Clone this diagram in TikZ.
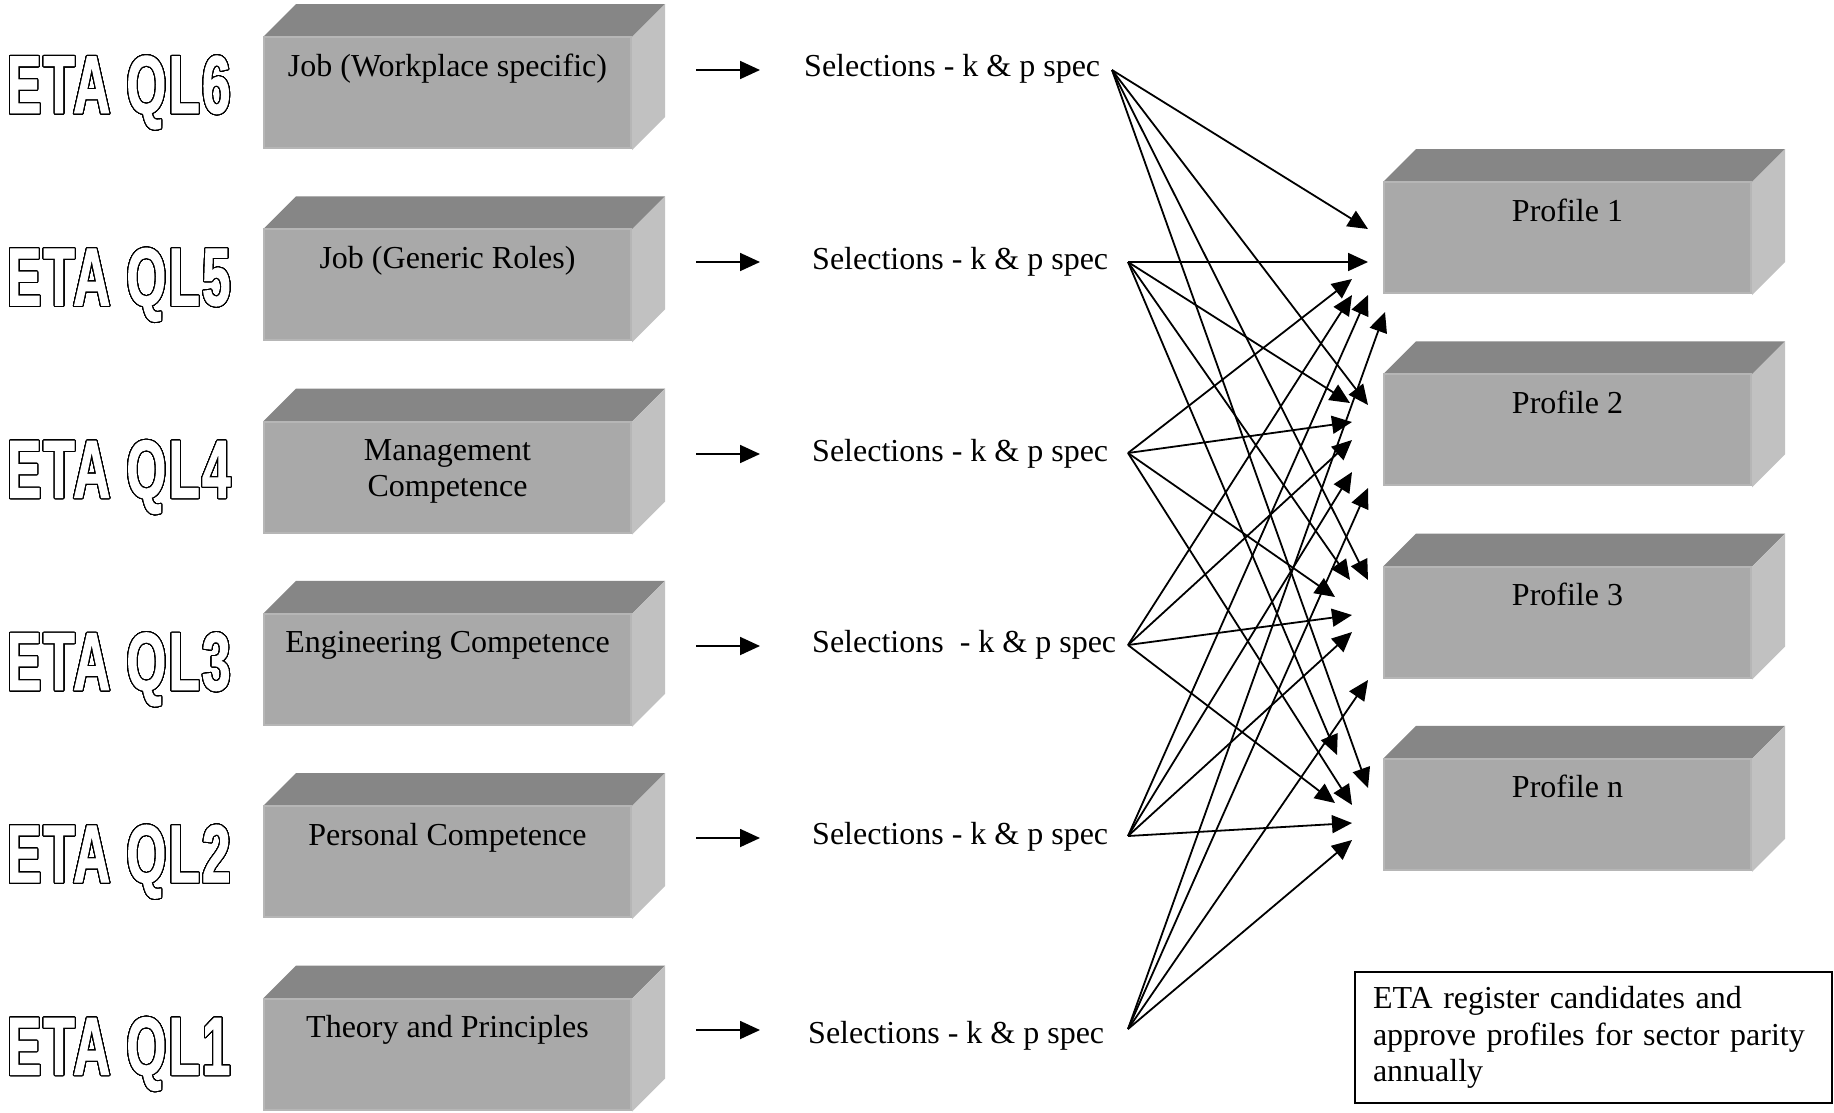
\documentclass[tikz,border=0pt]{standalone}
\usepackage{fontspec}
\setmainfont{Liberation Serif}
\newfontfamily\etafont[FakeStretch=0.62,FakeBold=1.2,LetterSpace=3]{Liberation Sans Bold}
\usepackage[copies]{contour}
\contourlength{1.1pt}
\contournumber{48}
\usetikzlibrary{arrows.meta}
\definecolor{topface}{HTML}{868686}
\definecolor{frontface}{HTML}{A9A9A9}
\definecolor{sideface}{HTML}{C1C1C1}
\definecolor{frontedge}{HTML}{B6B6B6}
\newcommand\blockbody[2]{%
  \fill[topface] ({#1-184.5},#2) -- ({#1-151.5},{#2-33}) -- ({#1+217.5},{#2-33}) -- ({#1+184.5},#2) -- cycle;
  \fill[sideface] ({#1+184.5},#2) -- ({#1+217.5},{#2-33}) -- ({#1+217.5},{#2+80}) -- ({#1+184.5},{#2+113}) -- cycle;
}
\begin{document}
\begin{tikzpicture}[x=1pt,y=-1pt,
  front/.style={fill=frontface,draw=frontedge,line width=2pt,minimum width=367pt,minimum height=111pt,inner sep=0pt,outer sep=0pt,anchor=north},
  boxtext/.style={font=\fontsize{32}{36}\selectfont,inner sep=0pt,anchor=base,align=center},
  seltext/.style={font=\fontsize{32}{36}\selectfont,inner sep=0pt,anchor=base west},
  etatext/.style={font=\etafont\fontsize{82}{90}\selectfont,inner sep=0pt,anchor=base west},
  link/.style={line width=1.8pt,-{Triangle[length=20pt,width=18pt]}},
]
\fill[white] (0,0) rectangle (1834,1112);
\useasboundingbox (0,0) rectangle (1834,1112);

% ---------- left blocks ----------
\blockbody{447.5}{37}
\node[front] (b1) at (447.5,37) {};
\node[boxtext] (bt1) at (447.5,76) {Job (Workplace specific)};
\blockbody{447.5}{229.3}
\node[front] (b2) at (447.5,229.3) {};
\node[boxtext] (bt2) at (447.5,268.3) {Job (Generic Roles)};
\blockbody{447.5}{421.6}
\node[front] (b3) at (447.5,421.6) {};
\node[boxtext] (bt3) at (447.5,496.6) {Management\\Competence};
\blockbody{447.5}{613.9}
\node[front] (b4) at (447.5,613.9) {};
\node[boxtext] (bt4) at (447.5,652.9) {Engineering Competence};
\blockbody{447.5}{806.2}
\node[front] (b5) at (447.5,806.2) {};
\node[boxtext] (bt5) at (447.5,845.2) {Personal Competence};
\blockbody{447.5}{998.5}
\node[front] (b6) at (447.5,998.5) {};
\node[boxtext] (bt6) at (447.5,1037.5) {Theory and Principles};

% ---------- ETA labels ----------
\node[etatext] (q1) at (7,113) {\color{white}\contour{black}{ETA QL6}};
\node[etatext] (q2) at (7,305.3) {\color{white}\contour{black}{ETA QL5}};
\node[etatext] (q3) at (7,497.6) {\color{white}\contour{black}{ETA QL4}};
\node[etatext] (q4) at (7,689.9) {\color{white}\contour{black}{ETA QL3}};
\node[etatext] (q5) at (7,882.2) {\color{white}\contour{black}{ETA QL2}};
\node[etatext] (q6) at (7,1074.5) {\color{white}\contour{black}{ETA QL1}};

% ---------- selections ----------
\node[seltext] (s1) at (804,76) {Selections - k \& p spec};
\node[seltext] (s2) at (812,269) {Selections - k \& p spec};
\node[seltext] (s3) at (812,461) {Selections - k \& p spec};
\node[seltext] (s4) at (812,652) {Selections\ \ - k \& p spec};
\node[seltext] (s5) at (812,844) {Selections - k \& p spec};
\node[seltext] (s6) at (808,1043) {Selections - k \& p spec};

% ---------- short arrows ----------
\foreach \r/\y in {1/70,2/262,3/454,4/646,5/838,6/1030}{
  \coordinate (a\r) at (696,\y);
  \coordinate (e\r) at (760,\y);
  \draw[link] (a\r) -- (e\r);
}

% ---------- profiles ----------
\blockbody{1567.5}{182}
\node[front] (p1) at (1567.5,182) {};
\node[boxtext] (pt1) at (1567.5,221) {Profile 1};
\blockbody{1567.5}{374.3}
\node[front] (p2) at (1567.5,374.3) {};
\node[boxtext] (pt2) at (1567.5,413.3) {Profile 2};
\blockbody{1567.5}{566.6}
\node[front] (p3) at (1567.5,566.6) {};
\node[boxtext] (pt3) at (1567.5,605.6) {Profile 3};
\blockbody{1567.5}{758.9}
\node[front] (p4) at (1567.5,758.9) {};
\node[boxtext] (pt4) at (1567.5,797.9) {Profile n};

% ---------- fan sources ----------
\coordinate (src1) at (1112,70);
\coordinate (src2) at (1128,262);
\coordinate (src3) at (1128,453);
\coordinate (src4) at (1128,645);
\coordinate (src5) at (1128,836);
\coordinate (src6) at (1128,1029);

\foreach \s/\p/\x/\y in {
  1/1/1368/229, 2/1/1368/262, 3/1/1352/279, 4/1/1352/295, 5/1/1368/295, 6/1/1385/312,
  1/2/1368/405, 2/2/1350/403, 3/2/1352/422, 4/2/1352/440, 5/2/1352/472, 6/2/1368/488,
  1/3/1368/580, 2/3/1350/580, 3/3/1335/597, 4/3/1352/615, 5/3/1352/632, 6/3/1368/680,
  1/4/1368/788, 2/4/1337/755, 3/4/1352/805, 4/4/1335/803, 5/4/1352/823, 6/4/1352/840}{
  \coordinate (t\s\p) at (\x,\y);
  \draw[link] (src\s) -- (t\s\p);
}

% ---------- note ----------
\node[draw,line width=2pt,anchor=north west,minimum width=477pt,minimum height=131pt,
      text width=441pt,align=left,inner xsep=18pt,inner ysep=0pt,
      font=\fontsize{32}{36.5}\selectfont] (note) at (1354,971)
  {ETA register candidates and\\approve profiles for sector parity\\annually};
\end{tikzpicture}
\end{document}
